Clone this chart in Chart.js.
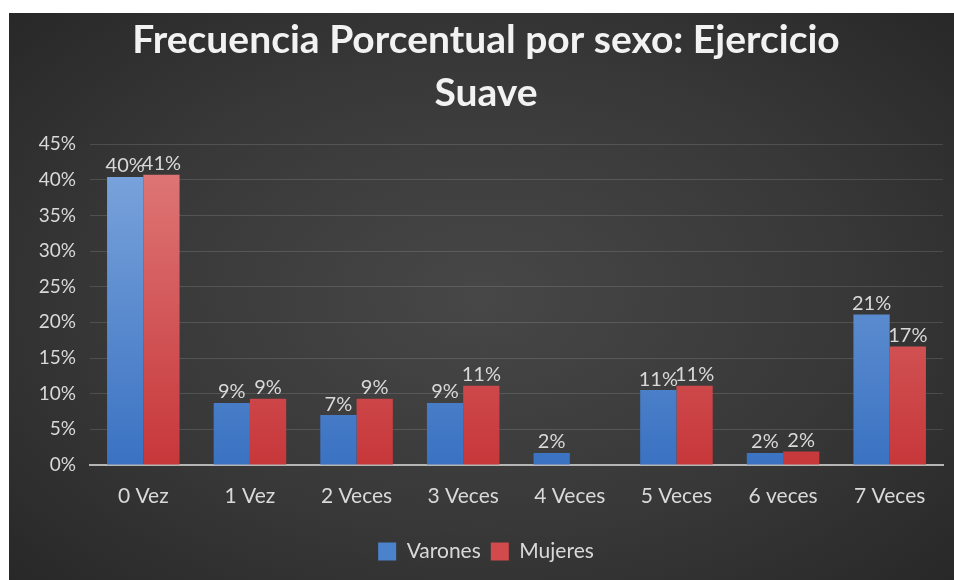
<!DOCTYPE html>
<html>
<head>
<meta charset="utf-8">
<script src="https://cdn.jsdelivr.net/npm/chart.js@4.4.1/dist/chart.umd.min.js"></script>
<style>
    html, body { margin: 0; padding: 0; background: #fff; }
    #panel {
        position: absolute;
        left: 9px;
        top: 13px;
        width: 945px;
        height: 567px;
        background: radial-gradient(ellipse 70% 75% at 50% 50%, #474747 0%, #383838 55%, #272727 100%);
    }
</style>
</head>
<body>
<div id="panel"><canvas id="barChart" width="945" height="567"></canvas></div>
<script>
const categories = ["0 Vez", "1 Vez", "2 Veces", "3 Veces", "4 Veces", "5 Veces", "6 veces", "7 Veces"];
const varones = [40.4, 8.7, 7.0, 8.7, 1.7, 10.5, 1.7, 21.1];
const mujeres = [40.7, 9.3, 9.3, 11.1, null, 11.1, 1.9, 16.6];
const yTicks = [0, 5, 10, 15, 20, 25, 30, 35, 40, 45];

const textColor = "#d9d9d9";

function barGradient(chart, top, bottom) {
    const { ctx, chartArea } = chart;
    if (!chartArea) return bottom;
    const g = ctx.createLinearGradient(0, chartArea.top, 0, chartArea.bottom);
    g.addColorStop(0, top);
    g.addColorStop(1, bottom);
    return g;
}

// percentage labels above every bar
const valueLabels = {
    id: "valueLabels",
    afterDatasetsDraw(chart) {
        const { ctx } = chart;
        ctx.save();
        ctx.font = "20px Lato";
        ctx.fillStyle = textColor;
        ctx.textAlign = "center";
        ctx.textBaseline = "bottom";
        chart.data.datasets.forEach((ds, i) => {
            chart.getDatasetMeta(i).data.forEach((bar, j) => {
                const v = ds.data[j];
                if (v === null || v === undefined) return;
                ctx.fillText(Math.round(v) + "%", bar.x, bar.y - 1);
            });
        });
        ctx.restore();
    }
};

const chart = new Chart(document.getElementById("barChart"), {
    type: "bar",
    data: {
        labels: categories,
        datasets: [
            {
                label: "Varones",
                data: varones,
                backgroundColor: (c) => barGradient(c.chart, "#7fa7dd", "#3a72c2"),
                borderWidth: 0
            },
            {
                label: "Mujeres",
                data: mujeres,
                backgroundColor: (c) => barGradient(c.chart, "#e07b7b", "#c7373a"),
                borderWidth: 0
            }
        ]
    },
    options: {
        responsive: false,
        animation: false,
        layout: { padding: { left: 20, right: 11, top: 1, bottom: 8 } },
        datasets: {
            bar: { categoryPercentage: 0.68, barPercentage: 1.0 }
        },
        plugins: {
            title: {
                display: true,
                text: ["Frecuencia Porcentual por sexo: Ejercicio", "Suave"],
                color: "#f2f2f2",
                font: { family: "Lato", size: 39, weight: "bold", lineHeight: 1.36 },
                padding: { top: 0, bottom: 24 }
            },
            legend: {
                position: "bottom",
                labels: {
                    color: textColor,
                    font: { family: "Lato", size: 21 },
                    boxWidth: 18,
                    boxHeight: 18,
                    padding: 10,
                    generateLabels(chart) {
                        const cols = ["#4a82cc", "#d24a4c"];
                        return chart.data.datasets.map((ds, i) => ({
                            text: ds.label,
                            fillStyle: cols[i],
                            strokeStyle: cols[i],
                            lineWidth: 0,
                            fontColor: textColor,
                            datasetIndex: i
                        }));
                    }
                }
            },
            tooltip: { enabled: false }
        },
        scales: {
            x: {
                afterFit(scale) { scale.height = 66; },
                grid: { display: false },
                border: { display: true, color: "#b5b5b5", width: 2 },
                ticks: { color: textColor, font: { family: "Lato", size: 21 }, padding: 11 }
            },
            y: {
                min: 0,
                max: 45,
                afterFit(scale) { scale.width = 61; },
                afterBuildTicks(scale) { scale.ticks = yTicks.map(v => ({ value: v })); },
                border: { display: false },
                grid: {
                    color: (c) => c.tick && c.tick.value === 0 ? "rgba(0,0,0,0)" : "rgba(255,255,255,0.13)",
                    lineWidth: 1,
                    drawTicks: false
                },
                ticks: {
                    color: textColor,
                    font: { family: "Lato", size: 19 },
                    padding: 14,
                    callback: (v) => v + "%"
                }
            }
        }
    },
    plugins: [valueLabels]
});
</script>
</body>
</html>
